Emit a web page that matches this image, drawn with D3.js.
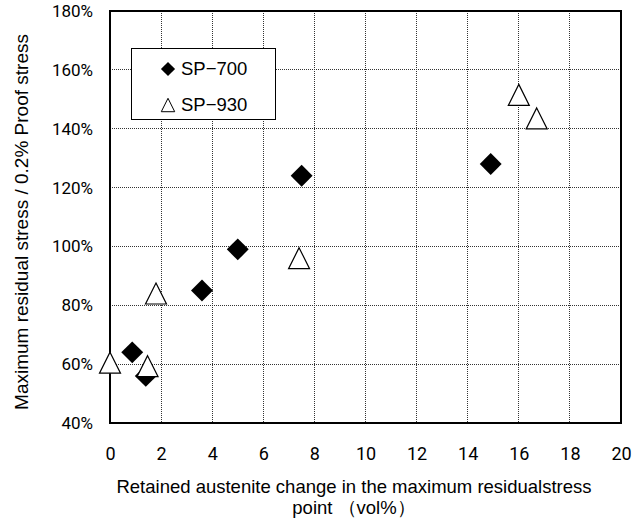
<!DOCTYPE html>
<html>
<head>
<meta charset="utf-8">
<script src="https://cdn.jsdelivr.net/npm/d3@7"></script>
<style>
  body { margin: 0; background: #fff; }
  svg { display: block; }
</style>
</head>
<body>
<div id="chart"></div>
<script>
// data
const sp700X = [0.87, 1.4, 3.6, 5.0, 7.5, 14.9];
const sp700Y = [64, 56, 85, 99, 124, 128];
const sp930X = [0, 1.47, 1.8, 7.4, 16.0, 16.7];
const sp930Y = [60.5, 59.3, 84, 96, 151.5, 143.5];
const xTicks = [0, 2, 4, 6, 8, 10, 12, 14, 16, 18, 20];
const yTicks = [40, 60, 80, 100, 120, 140, 160, 180];
const seriesNames = ['SP\u2212700', 'SP\u2212930'];

const width = 644, height = 522;
const margin = { top: 11, right: 23, bottom: 99, left: 110 };
const w = width - margin.left - margin.right;
const h = height - margin.top - margin.bottom;

const svg = d3.select('#chart')
  .append('svg')
  .attr('width', width)
  .attr('height', height);

const g = svg.append('g')
  .attr('transform', `translate(${margin.left},${margin.top})`);

const x = d3.scaleLinear().domain([0, 20]).range([0, w]);
const y = d3.scaleLinear().domain([40, 180]).range([h, 0]);

// grid
g.append('g')
  .selectAll('line.vg')
  .data(xTicks.slice(1, -1))
  .enter().append('line')
  .attr('x1', d => x(d)).attr('x2', d => x(d))
  .attr('y1', 0).attr('y2', h)
  .attr('stroke', '#333').attr('stroke-width', 1)
  .attr('stroke-dasharray', '1,1')
  .attr('shape-rendering', 'crispEdges');

g.append('g')
  .selectAll('line.hg')
  .data(yTicks.slice(1, -1))
  .enter().append('line')
  .attr('x1', 0).attr('x2', w)
  .attr('y1', d => y(d)).attr('y2', d => y(d))
  .attr('stroke', '#333').attr('stroke-width', 1)
  .attr('stroke-dasharray', '1,1')
  .attr('shape-rendering', 'crispEdges');

// frame
g.append('rect')
  .attr('x', 0).attr('y', 0).attr('width', w).attr('height', h)
  .attr('fill', 'none').attr('stroke', '#000').attr('stroke-width', 1.5)
  .attr('shape-rendering', 'crispEdges');

// axes
const xAxis = d3.axisBottom(x).tickValues(xTicks).tickSize(0).tickPadding(24);
const yAxis = d3.axisLeft(y).tickValues(yTicks).tickSize(0).tickPadding(17)
  .tickFormat(d => d + '%');

g.append('g')
  .attr('transform', `translate(0,${h})`)
  .call(xAxis)
  .call(s => s.select('.domain').remove())
  .selectAll('text')
  .attr('font-family', 'Roboto, sans-serif')
  .attr('font-size', 18)
  .attr('fill', '#000');

g.append('g')
  .call(yAxis)
  .call(s => s.select('.domain').remove())
  .selectAll('text')
  .attr('font-family', 'Roboto, sans-serif')
  .attr('font-size', 17)
  .attr('fill', '#000');

// markers
const diamond = d3.symbol().type(d3.symbolSquare).size(240);
const triangleType = {
  draw(ctx, size) {
    const s = Math.sqrt(size);
    ctx.moveTo(0, -s / 2);
    ctx.lineTo(s / 2, s / 2);
    ctx.lineTo(-s / 2, s / 2);
    ctx.closePath();
  }
};
const triangle = d3.symbol().type(triangleType).size(440);

g.selectAll('path.sp700')
  .data(sp700X.map((d, i) => [d, sp700Y[i]]))
  .enter().append('path')
  .attr('class', 'sp700')
  .attr('d', diamond)
  .attr('transform', d => `translate(${x(d[0])},${y(d[1])}) rotate(45)`)
  .attr('fill', '#000');

g.selectAll('path.sp930')
  .data(sp930X.map((d, i) => [d, sp930Y[i]]))
  .enter().append('path')
  .attr('class', 'sp930')
  .attr('d', triangle)
  .attr('transform', d => `translate(${x(d[0])},${y(d[1])})`)
  .attr('fill', '#fff')
  .attr('stroke', '#000')
  .attr('stroke-width', 1.2);

// legend
const legend = svg.append('g').attr('transform', 'translate(131,48)');
legend.append('rect')
  .attr('width', 144).attr('height', 71)
  .attr('fill', '#fff').attr('stroke', '#000').attr('stroke-width', 1)
  .attr('shape-rendering', 'crispEdges');

legend.append('path')
  .attr('d', d3.symbol().type(d3.symbolSquare).size(100))
  .attr('transform', 'translate(37,21) rotate(45)')
  .attr('fill', '#000');
legend.append('path')
  .attr('d', d3.symbol().type(triangleType).size(180))
  .attr('transform', 'translate(37,57)')
  .attr('fill', '#fff').attr('stroke', '#000').attr('stroke-width', 1);

legend.selectAll('text')
  .data(seriesNames)
  .enter().append('text')
  .attr('x', 50)
  .attr('y', (d, i) => 21 + i * 36)
  .attr('dy', '0.35em')
  .attr('font-family', 'Liberation Sans, Arial, sans-serif')
  .attr('font-size', 18.5)
  .text(d => d);

// axis titles
svg.append('text')
  .attr('text-anchor', 'middle')
  .attr('x', 354)
  .attr('y', 493)
  .attr('font-family', 'Liberation Sans, Arial, sans-serif')
  .attr('font-size', 18.5)
  .text('Retained austenite change in the maximum residualstress');

svg.append('text')
  .attr('text-anchor', 'middle')
  .attr('x', 354)
  .attr('y', 514)
  .attr('font-family', 'Liberation Sans, Arial, sans-serif')
  .attr('font-size', 18.5)
  .text('point \uFF08vol%\uFF09');

svg.append('text')
  .attr('text-anchor', 'middle')
  .attr('transform', 'translate(28,222) rotate(-90)')
  .attr('font-family', 'Liberation Sans, Arial, sans-serif')
  .attr('font-size', 19)
  .text('Maximum residual stress / 0.2% Proof stress');
</script>
</body>
</html>
